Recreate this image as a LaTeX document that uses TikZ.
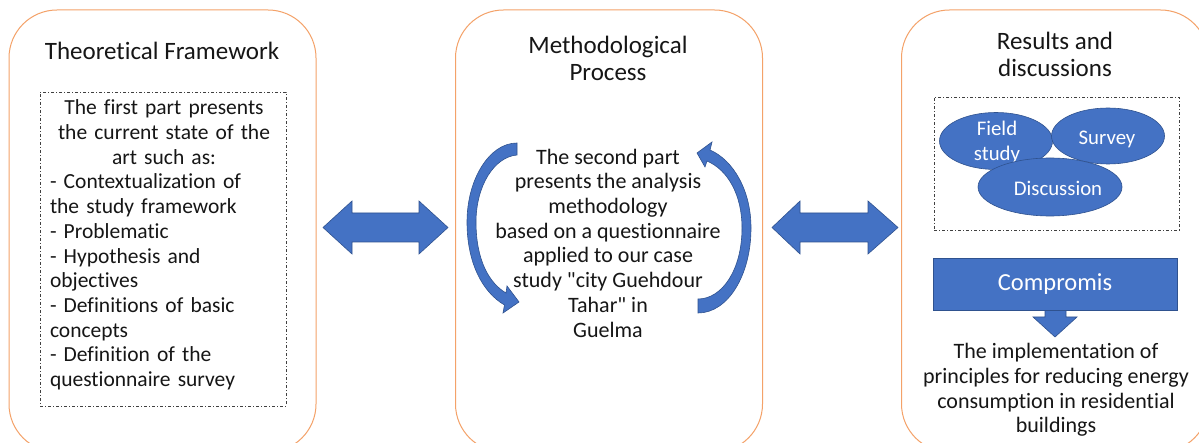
\documentclass[tikz,border=0pt]{standalone}
\usepackage{fontspec}
\setmainfont{Carlito}[Ligatures={TeXOff,NoCommon}]
\usetikzlibrary{shapes.geometric}
\definecolor{panelorange}{RGB}{244,162,105}
\definecolor{blockblue}{RGB}{68,114,196}
\definecolor{blockedge}{RGB}{47,82,143}
\definecolor{inktext}{RGB}{22,22,22}
\begin{document}
\begin{tikzpicture}[x=1pt,y=-1pt,
  panel/.style={draw=panelorange, line width=1pt, rounded corners=48pt,
    minimum width=307pt, minimum height=442pt, inner sep=0pt},
  paneltitle/.style={align=center, font=\fontsize{25}{27}\selectfont,
    text=inktext, inner sep=0pt},
  bodytext/.style={align=center, font=\fontsize{22}{24.7}\selectfont,
    text=inktext, inner sep=0pt},
  dashbox/.style={draw=black!75, line width=0.7pt,
    dash pattern=on 3pt off 2pt on 1pt off 2pt, inner sep=0pt},
  bluefill/.style={fill=blockblue, draw=blockedge, line width=0.6pt},
  bubble/.style={ellipse, bluefill, inner sep=0pt},
  bubbletext/.style={text=white, align=center, inner sep=0pt,
    font=\fontsize{20.8}{25}\selectfont},
]
\useasboundingbox (0,0) rectangle (1199,443);
\clip (0,0) rectangle (1199,443);
\fill[white] (0,0) rectangle (1199,443);

% three rounded panels
\node[panel] (left)  at (162.5,231) {};
\node[panel] (mid)   at (609,231) {};
\node[panel] (right) at (1055,231) {};

% panel titles
\node[paneltitle] (t1) at (162,51) {Theoretical Framework};
\node[paneltitle] (t2) at (608,58) {Methodological\\Process};
\node[paneltitle] (t3) at (1055,54) {Results and\\discussions};

% left panel: framed summary
\node[dashbox, minimum width=246pt, minimum height=314pt] (frame1) at (163,249) {};
\node[text=inktext, inner sep=0pt, text width=228pt,
      font=\fontsize{21.5}{24.7}\selectfont] (part1) at (164,245)
  {\centering The first part presents\\ the current state of the\\ art such as:\par
   \raggedright - Contextualization of\\ the study framework\\ - Problematic\\
   - Hypothesis and\\ objectives\\ - Definitions of basic\\ concepts\\
   - Definition of the\\ questionnaire survey\par};

% double arrows between panels
\fill[bluefill] (323,227.5) -- (352,201) -- (352,213) -- (419,213) -- (419,201)
  -- (448,227.5) -- (419,254) -- (419,242) -- (352,242) -- (352,254) -- cycle;
\fill[bluefill] (772,227.5) -- (800,201) -- (800,213) -- (868,213) -- (868,201)
  -- (898,227.5) -- (868,254) -- (868,242) -- (800,242) -- (800,254) -- cycle;

% middle panel: cycle arrows around the text
\fill[bluefill] (517,143) .. controls (489,143) and (467,180) .. (467,222)
  .. controls (467,262) and (482,292) .. (504.5,305)
  -- (503,313) -- (519,302) -- (507,286) -- (506,293)
  .. controls (489,283) and (476,260) .. (476,222)
  .. controls (476,186) and (494,157) .. (517,155) -- cycle;
\fill[bluefill] (698,313) .. controls (728,313) and (751,275) .. (751,228)
  .. controls (751,190) and (733,160) .. (710,150)
  -- (712,142) -- (697,153) -- (705,167) -- (707,161)
  .. controls (728,170) and (742,195) .. (742,228)
  .. controls (742,270) and (722,299) .. (698,299) -- cycle;
\node[bodytext] (part2) at (608,243)
  {The second part\\ presents the analysis\\ methodology\\ based on a questionnaire\\
   applied to our case\\ study "city Guehdour\\ Tahar" in\\ Guelma};

% right panel: results cluster
\node[dashbox, minimum width=245pt, minimum height=133pt] (frame3) at (1056.5,163.5) {};
\node[bubble, minimum width=113pt, minimum height=57pt] (field) at (996,141) {};
\node[bubbletext] (fieldtxt) at (997,142) {Field\\study};
\node[bubble, minimum width=113pt, minimum height=56pt] (survey) at (1108,136) {};
\node[bubbletext] (surveytxt) at (1107,139) {Survey};
\node[bubble, minimum width=144pt, minimum height=58pt] (disc) at (1050,187) {};
\node[bubbletext] (disctxt) at (1058,188) {Discussion};

% compromise block and outcome
\fill[bluefill] (1045,300) -- (1045,317) -- (1033,317) -- (1055,337) -- (1077,317)
  -- (1066,317) -- (1066,300) -- cycle;
\node[bluefill, minimum width=244pt, minimum height=52pt, inner sep=0pt,
      text=white, font=\fontsize{24.5}{26}\selectfont] (comp) at (1055,284) {Compromis};
\node[bodytext] (outcome) at (1056,390)
  {The implementation of\\ principles for reducing energy\\ consumption in residential\\ buildings};
\end{tikzpicture}
\end{document}
